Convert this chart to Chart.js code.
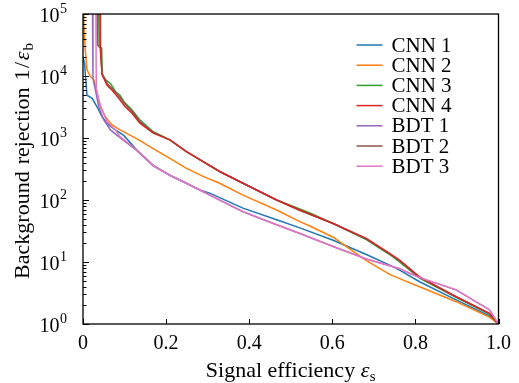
<!DOCTYPE html>
<html>
<head>
<meta charset="utf-8">
<script src="https://cdn.jsdelivr.net/npm/chart.js@4.4.1/dist/chart.umd.min.js"></script>
<style>
  html, body { margin: 0; padding: 0; background: #fff; }
  #wrap { width: 519px; height: 383px; }
</style>
</head>
<body>
<div id="wrap"><canvas id="roc"></canvas></div>
<script>
// series (signal efficiency -> background rejection)
const labels = ['CNN 1', 'CNN 2', 'CNN 3', 'CNN 4', 'BDT 1', 'BDT 2', 'BDT 3'];
const colors = ['#1f77b4', '#ff7f0e', '#2ca02c', '#d62728', '#9467bd', '#8c564b', '#e377c2'];

const cnn1Eff = [0.0, 0.004, 0.0055, 0.0096, 0.022, 0.034, 0.046, 0.062, 0.078, 0.098, 0.129, 0.169, 0.209, 0.249, 0.281, 0.305, 0.385, 0.466, 0.522, 0.602, 0.682, 0.738, 0.762, 0.81, 0.898, 0.978, 1.0];
const cnn1Rej = [19950, 15850, 10960, 4900, 4365, 3160, 2190, 1620, 1350, 1100, 646, 363, 251, 186, 145, 129, 74, 48, 35.5, 22.4, 13.2, 8.9, 7.4, 4.8, 2.45, 1.35, 1];

const cnn2Eff = [0.0, 0.002, 0.0055, 0.0096, 0.018, 0.026, 0.034, 0.042, 0.054, 0.07, 0.089, 0.129, 0.169, 0.209, 0.249, 0.289, 0.329, 0.385, 0.466, 0.522, 0.546, 0.602, 0.64, 0.682, 0.738, 0.762, 0.81, 0.898, 0.978, 1.0];
const cnn2Rej = [100000, 70800, 26300, 12590, 9770, 8710, 5250, 3160, 2190, 1620, 1350, 977, 676, 468, 324, 240, 186, 120, 69, 44.7, 38, 25.1, 16.6, 10.5, 6.3, 5.4, 3.98, 2.29, 1.29, 1];

const cnn3Eff = [0.038, 0.039, 0.045, 0.046, 0.054, 0.066, 0.078, 0.089, 0.098, 0.118, 0.137, 0.169, 0.209, 0.249, 0.289, 0.329, 0.385, 0.466, 0.546, 0.602, 0.682, 0.738, 0.762, 0.81, 0.898, 0.978, 1.0];
const cnn3Rej = [100000, 29500, 28200, 10960, 8710, 7590, 5620, 4900, 3890, 2820, 1950, 1260, 933, 603, 417, 288, 186, 100, 61.7, 41.7, 22.9, 13.2, 10, 5.5, 2.7, 1.45, 1];

const cnn4Eff = [0.041, 0.042, 0.046, 0.058, 0.07, 0.086, 0.102, 0.118, 0.137, 0.169, 0.209, 0.249, 0.289, 0.329, 0.385, 0.466, 0.522, 0.602, 0.682, 0.738, 0.762, 0.81, 0.898, 0.978, 1.0];
const cnn4Rej = [100000, 25100, 10470, 7080, 5890, 4365, 3160, 2510, 1740, 1200, 933, 603, 417, 288, 186, 100, 69, 41.7, 24, 13.8, 10.7, 5.75, 2.75, 1.48, 1];

const bdt1Eff = [0.023, 0.024, 0.030, 0.038, 0.05, 0.066, 0.086, 0.129, 0.169, 0.209, 0.249, 0.281, 0.305, 0.385, 0.466, 0.522, 0.602, 0.682, 0.738, 0.762, 0.81, 0.898, 0.978, 1.0];
const bdt1Rej = [100000, 9120, 5890, 3160, 1950, 1350, 1050, 631, 355, 251, 186, 145, 120, 64.6, 39.8, 28.8, 17.8, 11.2, 8.7, 7.76, 5.6, 3.55, 1.7, 1];

const bdt2Eff = [0.034, 0.035, 0.042, 0.046, 0.058, 0.07, 0.086, 0.102, 0.118, 0.137, 0.169, 0.209, 0.249, 0.289, 0.329, 0.385, 0.466, 0.522, 0.602, 0.682, 0.738, 0.762, 0.81, 0.898, 0.978, 1.0];
const bdt2Rej = [100000, 31600, 28200, 10700, 7590, 6310, 4790, 3470, 2690, 1820, 1230, 933, 603, 417, 288, 186, 100, 67.6, 41.7, 23.4, 13.5, 10.5, 5.6, 2.75, 1.48, 1];

const bdt3Eff = [0.031, 0.032, 0.038, 0.046, 0.058, 0.078, 0.089, 0.129, 0.169, 0.209, 0.249, 0.281, 0.305, 0.385, 0.466, 0.522, 0.602, 0.682, 0.738, 0.762, 0.81, 0.898, 0.978, 1.0];
const bdt3Rej = [100000, 6310, 4070, 2820, 1820, 1350, 1050, 646, 363, 251, 186, 145, 120, 65, 39.8, 28.8, 17.8, 11.2, 8.7, 7.76, 5.6, 3.55, 1.7, 1];

const xTicks = [0, 0.2, 0.4, 0.6, 0.8, 1.0];
const yDecades = [0, 1, 2, 3, 4, 5];

const effs = [cnn1Eff, cnn2Eff, cnn3Eff, cnn4Eff, bdt1Eff, bdt2Eff, bdt3Eff];
const rejs = [cnn1Rej, cnn2Rej, cnn3Rej, cnn4Rej, bdt1Rej, bdt2Rej, bdt3Rej];
// which curve sits on top (lower = drawn later)
const drawOrder = [6, 5, 4, 2, 1, 3, 0];

const SERIF = '"Liberation Serif", "DejaVu Serif", serif';

// draws a run of [text, font, dx-before, dy] pieces from x along the baseline
function drawPieces(ctx, pieces, x, y) {
    let cx = x;
    pieces.forEach(([t, f, gap, dy]) => {
        ctx.font = f;
        cx += gap;
        ctx.fillText(t, cx, y + dy);
        cx += ctx.measureText(t).width;
    });
    return cx - x;
}
function piecesWidth(ctx, pieces) {
    let w = 0;
    pieces.forEach(([t, f, gap]) => { ctx.font = f; w += gap + ctx.measureText(t).width; });
    return w;
}

const decor = {
    id: 'decor',
    afterDraw(chart) {
        const ctx = chart.ctx;
        const a = chart.chartArea;
        const xs = chart.scales.x, ys = chart.scales.y;
        ctx.save();
        ctx.strokeStyle = '#000';
        ctx.fillStyle = '#000';

        // frame
        ctx.lineWidth = 1.3;
        ctx.strokeRect(a.left, a.top, a.right - a.left, a.bottom - a.top);

        // inward ticks
        ctx.lineWidth = 1;
        ctx.beginPath();
        xTicks.forEach(v => {
            const px = Math.round(xs.getPixelForValue(v)) + 0.5;
            ctx.moveTo(px, a.bottom); ctx.lineTo(px, a.bottom - 5);
        });
        yDecades.forEach(k => {
            const py = Math.round(ys.getPixelForValue(Math.pow(10, k))) + 0.5;
            ctx.moveTo(a.left, py); ctx.lineTo(a.left + 6, py);
            if (k < 5) {
                for (let m = 2; m < 10; m++) {
                    const pm = Math.round(ys.getPixelForValue(m * Math.pow(10, k))) + 0.5;
                    ctx.moveTo(a.left, pm); ctx.lineTo(a.left + 3.5, pm);
                }
            }
        });
        ctx.stroke();

        // y tick labels 10^k
        ctx.textBaseline = 'alphabetic';
        yDecades.forEach(k => {
            const py = ys.getPixelForValue(Math.pow(10, k));
            ctx.font = '14px ' + SERIF;
            ctx.textAlign = 'left';
            const ew = ctx.measureText(String(k)).width;
            const ex = a.left - 16 - ew;
            ctx.fillText(String(k), ex, py - 1);
            ctx.font = '20px ' + SERIF;
            ctx.textAlign = 'right';
            ctx.fillText('10', ex - 0.5, py + 8);
        });

        // x title
        ctx.textAlign = 'left';
        const xt = [
            ['Signal efficiency ', '22px ' + SERIF, 0, 0],
            ['ε', 'italic 22px ' + SERIF, 0, 0],
            ['s', '15px ' + SERIF, 0.5, 4]
        ];
        const cx = (a.left + a.right) / 2;
        drawPieces(ctx, xt, cx - piecesWidth(ctx, xt) / 2, 377);

        // y title (rotated)
        const yt = [
            ['Background', '22px ' + SERIF, 0, 0],
            ['rejection', '22px ' + SERIF, 7, 0],
            ['1', '22px ' + SERIF, 7, 0],
            ['/', '22px ' + SERIF, 1.5, 0],
            ['ε', 'italic 22px ' + SERIF, 1.5, 0],
            ['b', '15px ' + SERIF, 1, 4]
        ];
        ctx.save();
        ctx.translate(29, 161);
        ctx.rotate(-Math.PI / 2);
        drawPieces(ctx, yt, -piecesWidth(ctx, yt) / 2, 0);
        ctx.restore();

        // legend inside the axes, upper right
        ctx.font = '21px ' + SERIF;
        ctx.textBaseline = 'middle';
        ctx.textAlign = 'left';
        labels.forEach((lab, i) => {
            const ly = a.top + 31 + i * 20.2;
            ctx.strokeStyle = colors[i];
            ctx.lineWidth = 1.5;
            ctx.beginPath();
            ctx.moveTo(a.right - 142, ly);
            ctx.lineTo(a.right - 116, ly);
            ctx.stroke();
            ctx.fillStyle = '#000';
            ctx.fillText(lab, a.right - 107, ly + 1);
        });
        ctx.restore();
    }
};

new Chart(document.getElementById('roc'), {
    type: 'line',
    data: {
        datasets: labels.map((lab, i) => ({
            label: lab,
            data: effs[i].map((e, j) => ({ x: e, y: rejs[i][j] })),
            borderColor: colors[i],
            backgroundColor: colors[i],
            borderWidth: 1.5,
            pointRadius: 0,
            tension: 0,
            fill: false,
            order: drawOrder[i]
        }))
    },
    options: {
        responsive: true,
        maintainAspectRatio: false,
        animation: false,
        layout: { padding: { left: 0, top: 14, right: 20, bottom: 0 } },
        plugins: { legend: { display: false }, tooltip: { enabled: false } },
        scales: {
            x: {
                type: 'linear',
                min: 0,
                max: 1,
                afterBuildTicks: s => { s.ticks = xTicks.map(v => ({ value: v })); },
                afterFit: s => { s.height = 59; },
                grid: { display: false, drawTicks: false },
                border: { display: false },
                ticks: {
                    color: '#000',
                    padding: 8,
                    maxRotation: 0,
                    font: { family: SERIF, size: 20 },
                    callback: v => (v === 0 ? '0' : v.toFixed(1))
                }
            },
            y: {
                type: 'logarithmic',
                min: 1,
                max: 100000,
                afterFit: s => { s.width = 83; },
                grid: { display: false, drawTicks: false },
                border: { display: false },
                ticks: { display: false }
            }
        }
    },
    plugins: [decor]
});
</script>
</body>
</html>
